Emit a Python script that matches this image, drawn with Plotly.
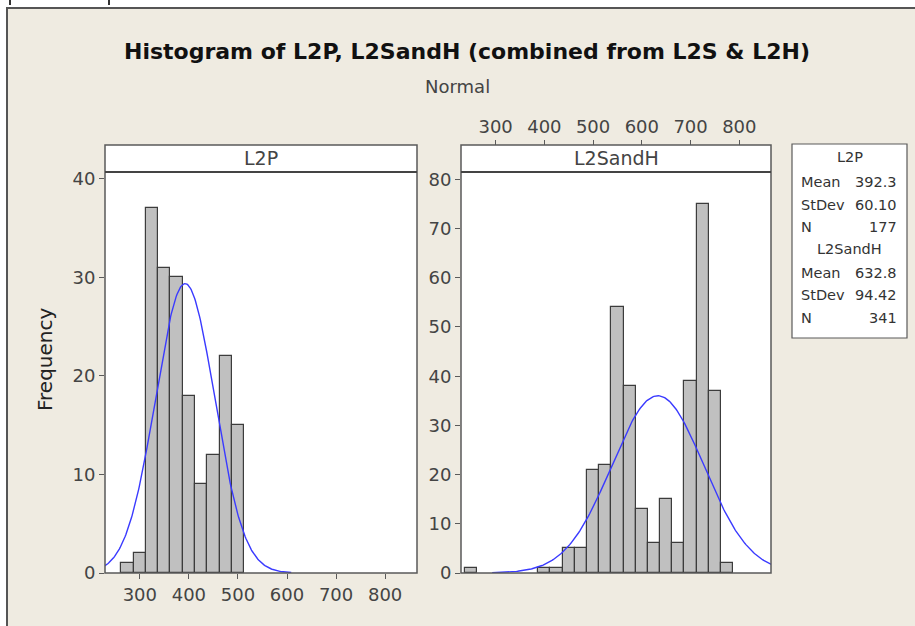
import numpy as np
import plotly.graph_objects as go

# ---------------- data ----------------
l2p_bins = [275, 300, 325, 350, 375, 400, 425, 450, 475, 500]
l2p_counts = [1, 2, 37, 31, 30, 18, 9, 12, 22, 15]

l2sh_bins = [250, 400, 425, 450, 475, 500, 525, 550, 575, 600, 625, 650, 675, 700, 725, 750, 775]
l2sh_counts = [1, 1, 1, 5, 5, 21, 22, 54, 38, 13, 6, 15, 6, 39, 75, 37, 2]

bin_width = 25
x_ticks = [300, 400, 500, 600, 700, 800]
l2p_yticks = [0, 10, 20, 30, 40]
l2sh_yticks = [0, 10, 20, 30, 40, 50, 60, 70, 80]

stats_names = ["L2P", "L2SandH"]
stats_mean = [392.3, 632.8]
stats_sd = [60.10, 94.42]
stats_n = [177, 341]
stats_mean_txt = ["392.3", "632.8"]
stats_sd_txt = ["60.10", "94.42"]

# ---------------- layout helpers ----------------
W, H = 915, 626
def px(x):
    return x / W
def py(y):
    return 1 - y / H

BG = "#EFEBE1"
FONT = "DejaVu Sans"
TXT = "#444444"
BORDER = "#5a5a5a"

L = dict(x0=105, x1=417)
R = dict(x0=461, x1=771)
STRIP_TOP, BODY_TOP, BODY_BOT = 145, 172, 573
XR = [229, 865]


def normal_curve(mean, sd, n):
    xs = np.linspace(mean - 3.6 * sd, mean + 3.6 * sd, 300)
    ys = n * bin_width / (sd * np.sqrt(2 * np.pi)) * np.exp(-0.5 * ((xs - mean) / sd) ** 2)
    return xs, ys

fig = go.Figure()

bar_style = dict(marker=dict(color="#C0C0C0", line=dict(color="#3c3c3c", width=1.2)),
                 width=bin_width, showlegend=False, hoverinfo="x+y")

fig.add_trace(go.Bar(x=l2p_bins, y=l2p_counts, xaxis="x", yaxis="y", **bar_style))
cx, cy = normal_curve(stats_mean[0], stats_sd[0], stats_n[0])
fig.add_trace(go.Scatter(x=cx, y=cy, mode="lines", xaxis="x", yaxis="y",
                         line=dict(color="#3a3aff", width=1.4), showlegend=False))

fig.add_trace(go.Bar(x=l2sh_bins, y=l2sh_counts, xaxis="x2", yaxis="y2", **bar_style))
cx, cy = normal_curve(stats_mean[1], stats_sd[1], stats_n[1])
fig.add_trace(go.Scatter(x=cx, y=cy, mode="lines", xaxis="x2", yaxis="y2",
                         line=dict(color="#3a3aff", width=1.4), showlegend=False))

tickfont = dict(family=FONT, size=18, color=TXT)
common_x = dict(range=XR, tickvals=x_ticks, ticks="outside", ticklen=5, tickcolor=BORDER,
                tickwidth=1, showgrid=False, zeroline=False, showline=False, tickfont=tickfont,
                automargin=False)
common_y = dict(ticks="outside", ticklen=5, tickcolor=BORDER, tickwidth=1, showgrid=False,
                zeroline=False, showline=False, tickfont=tickfont, automargin=False)

fig.update_layout(
    width=W, height=H,
    margin=dict(l=0, r=0, t=0, b=0, pad=0, autoexpand=False),
    paper_bgcolor="white",
    plot_bgcolor="rgba(0,0,0,0)",
    showlegend=False,
    bargap=0,
    xaxis=dict(domain=[px(L["x0"]), px(L["x1"])], anchor="y", **common_x),
    yaxis=dict(domain=[py(BODY_BOT), py(BODY_TOP)], anchor="x", range=[0, 40.7],
               tickvals=l2p_yticks, **common_y),
    xaxis2=dict(domain=[px(R["x0"]), px(R["x1"])], anchor="free", position=py(STRIP_TOP),
                side="top", **common_x),
    yaxis2=dict(domain=[py(BODY_BOT), py(BODY_TOP)], anchor="x2", range=[0, 81.5],
                tickvals=l2sh_yticks, **common_y),
)

shapes = []
# background frame
shapes.append(dict(type="rect", xref="paper", yref="paper", x0=px(7), x1=px(W + 5),
                   y0=py(H + 5), y1=py(8), fillcolor=BG, line=dict(color="#555555", width=2),
                   layer="below"))
# small marks at very top
for xm in [10, 109]:
    shapes.append(dict(type="line", xref="paper", yref="paper", x0=px(xm), x1=px(xm),
                       y0=py(0), y1=py(5), line=dict(color="#333333", width=2), layer="below"))
for P in (L, R):
    shapes.append(dict(type="rect", xref="paper", yref="paper", x0=px(P["x0"]), x1=px(P["x1"]),
                       y0=py(BODY_BOT), y1=py(STRIP_TOP), fillcolor="white",
                       line=dict(width=0), layer="below"))
    shapes.append(dict(type="rect", xref="paper", yref="paper", x0=px(P["x0"]), x1=px(P["x1"]),
                       y0=py(BODY_BOT), y1=py(STRIP_TOP), fillcolor="rgba(0,0,0,0)",
                       line=dict(color=BORDER, width=1.5), layer="above"))
    shapes.append(dict(type="line", xref="paper", yref="paper", x0=px(P["x0"]), x1=px(P["x1"]),
                       y0=py(BODY_TOP), y1=py(BODY_TOP), line=dict(color="#444444", width=2),
                       layer="above"))
# stats box
BX0, BX1, BY0, BY1 = 792, 907, 144, 338
shapes.append(dict(type="rect", xref="paper", yref="paper", x0=px(BX0), x1=px(BX1),
                   y0=py(BY1), y1=py(BY0), fillcolor="white",
                   line=dict(color=BORDER, width=1.2), layer="above"))

fig.update_layout(shapes=shapes)

ann = []
ann.append(dict(text="<b>Histogram of L2P, L2SandH (combined from L2S &amp; L2H)</b>",
                x=px(467), y=py(52), xref="paper", yref="paper", showarrow=False,
                font=dict(family=FONT, size=22, color="#111111"), xanchor="center", yanchor="middle"))
ann.append(dict(text="Normal", x=px(458), y=py(87), xref="paper", yref="paper", showarrow=False,
                font=dict(family=FONT, size=18, color="#444444"), xanchor="center", yanchor="middle"))
ann.append(dict(text="Frequency", x=px(45), y=py(360), xref="paper", yref="paper", showarrow=False,
                textangle=-90, font=dict(family=FONT, size=20, color="#222222"),
                xanchor="center", yanchor="middle"))
ann.append(dict(text=stats_names[0], x=px((L["x0"] + L["x1"]) / 2), y=py(158.5), xref="paper",
                yref="paper", showarrow=False, font=dict(family=FONT, size=19, color=TXT),
                xanchor="center", yanchor="middle"))
ann.append(dict(text=stats_names[1], x=px((R["x0"] + R["x1"]) / 2), y=py(158.5), xref="paper",
                yref="paper", showarrow=False, font=dict(family=FONT, size=19, color=TXT),
                xanchor="center", yanchor="middle"))

sfont = dict(family=FONT, size=14.5, color="#333333")
rows_y = [[157, 182, 205, 227], [249, 273, 295, 318]]
for i in range(2):
    ys = rows_y[i]
    ann.append(dict(text=stats_names[i], x=px((BX0 + BX1) / 2), y=py(ys[0]), xref="paper",
                    yref="paper", showarrow=False, font=sfont, xanchor="center", yanchor="middle"))
    labels = ["Mean", "StDev", "N"]
    vals = [stats_mean_txt[i], stats_sd_txt[i], str(stats_n[i])]
    for lab, val, yy in zip(labels, vals, ys[1:]):
        ann.append(dict(text=lab, x=px(799), y=py(yy), xref="paper", yref="paper",
                        showarrow=False, font=sfont, xanchor="left", yanchor="middle"))
        ann.append(dict(text=val, x=px(899), y=py(yy), xref="paper", yref="paper",
                        showarrow=False, font=sfont, xanchor="right", yanchor="middle"))

fig.update_layout(annotations=ann)

fig.write_html("out.html", config={"displayModeBar": False},
               post_script="document.body.style.margin='0';document.body.style.overflow='hidden';")
